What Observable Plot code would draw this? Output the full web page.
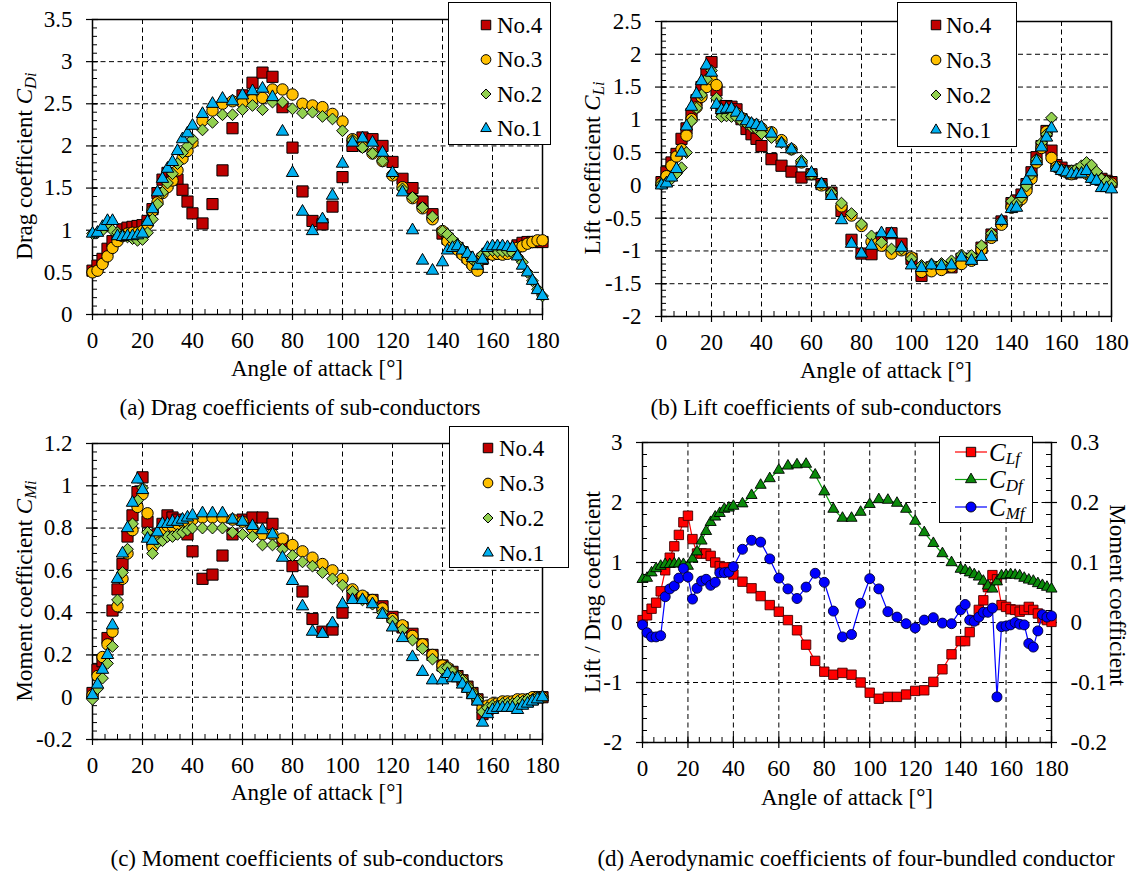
<!DOCTYPE html>
<html>
<head>
<meta charset="utf-8">
<script src="https://cdn.jsdelivr.net/npm/d3@7"></script>
<script src="https://cdn.jsdelivr.net/npm/@observablehq/plot@0.6"></script>
<style>
  body { margin: 0; background: #fff; }
  #fig { position: relative; width: 1135px; height: 875px; background: #fff; overflow: hidden;
         font-family: "Liberation Serif", "Times New Roman", serif; color: #000; }
  #fig > svg { position: absolute; overflow: visible; }
  #fig svg text { font-family: "Liberation Serif", "Times New Roman", serif !important; }
  .lab { position: absolute; white-space: nowrap; line-height: 1; transform-origin: center; }
  .lab sub { font-size: 0.72em; vertical-align: -0.28em; line-height: 0; }
</style>
</head>
<body>
<div id="fig"></div>
<script>
// Angles of attack (deg): 2° steps near the ends, 4° steps in the middle
const angle = [0,2,4,6,8,10,12,14,16,18,20,22,24,26,28,30,32,34,36,38,40,
  44,48,52,56,60,64,68,72,76,80,84,88,92,96,100,104,108,112,116,120,124,128,132,136,
  140,142,144,146,148,150,152,154,156,158,160,162,164,166,168,170,172,174,176,178,180];

// (a) Drag coefficients of sub-conductors
const dragNo4 = [0.52,0.58,0.66,0.78,0.87,0.96,1.01,1.03,1.04,1.05,1.06,1.11,1.25,1.44,1.60,1.68,1.65,1.60,1.48,1.34,1.20,
  1.08,1.31,1.71,2.21,2.60,2.75,2.87,2.82,2.46,1.98,1.46,1.11,1.07,1.28,1.63,2.00,2.10,2.08,2.00,1.81,1.61,1.50,1.34,1.19,
  0.96,0.90,0.84,0.79,0.74,0.68,0.62,0.56,0.66,0.72,0.72,0.73,0.73,0.74,0.78,0.82,0.85,0.86,0.86,0.86,0.86];
const dragNo3 = [0.50,0.52,0.60,0.69,0.79,0.87,0.93,0.96,0.97,0.97,0.99,1.07,1.23,1.33,1.44,1.51,1.59,1.71,1.85,1.94,2.04,
  2.30,2.42,2.50,2.53,2.51,2.55,2.57,2.67,2.67,2.61,2.50,2.48,2.46,2.38,2.29,2.08,1.99,1.91,1.82,1.65,1.51,1.38,1.26,1.13,
  0.99,0.87,0.81,0.77,0.71,0.65,0.58,0.52,0.69,0.73,0.71,0.72,0.71,0.72,0.75,0.79,0.81,0.84,0.86,0.88,0.88];
const dragNo2 = [0.96,0.97,1.00,1.05,1.00,0.97,0.94,0.92,0.90,0.88,0.89,0.97,1.13,1.31,1.45,1.56,1.67,1.79,1.92,2.00,2.08,
  2.19,2.28,2.37,2.37,2.43,2.48,2.43,2.52,2.52,2.44,2.39,2.40,2.35,2.32,2.18,2.07,1.98,1.91,1.82,1.67,1.49,1.39,1.27,1.16,
  0.99,0.95,0.89,0.83,0.77,0.71,0.65,0.60,0.71,0.75,0.76,0.75,0.75,0.75,0.73,0.69,0.62,0.50,0.40,0.30,0.22];
const dragNo1 = [0.96,0.97,1.04,1.11,1.11,0.93,0.92,0.93,0.93,0.94,0.96,1.10,1.25,1.45,1.61,1.73,1.81,1.94,2.08,2.15,2.24,
  2.38,2.50,2.56,2.53,2.60,2.65,2.68,2.58,2.17,1.68,1.22,0.99,1.13,1.41,1.79,2.04,2.09,2.04,1.92,1.68,1.45,1.00,0.64,0.52,
  0.62,0.76,0.79,0.81,0.76,0.72,0.67,0.58,0.65,0.79,0.81,0.81,0.81,0.80,0.79,0.69,0.58,0.50,0.40,0.29,0.22];

// (b) Lift coefficients of sub-conductors
const liftNo4 = [0.05,0.20,0.35,0.48,0.71,0.87,1.09,1.30,1.50,1.70,1.88,1.45,1.21,1.21,1.20,1.16,1.01,0.86,0.78,0.71,0.60,
  0.40,0.30,0.21,0.12,0.17,0.02,-0.11,-0.39,-0.83,-1.04,-1.05,-0.80,-0.73,-0.89,-1.12,-1.38,-1.25,-1.25,-1.25,-1.12,-1.12,-0.95,-0.75,-0.55,
  -0.27,-0.23,-0.14,0.02,0.20,0.43,0.60,0.83,0.53,0.31,0.27,0.22,0.18,0.22,0.23,0.22,0.17,0.13,0.10,0.07,0.05];
const liftNo3 = [0.03,0.14,0.30,0.44,0.55,0.76,1.01,1.19,1.35,1.50,1.62,1.53,1.12,1.15,1.14,1.10,1.03,0.97,0.93,0.90,0.87,
  0.81,0.69,0.55,0.35,0.17,0.00,-0.12,-0.32,-0.46,-0.62,-0.86,-0.92,-1.04,-0.99,-1.10,-1.32,-1.31,-1.29,-1.24,-1.20,-1.15,-0.98,-0.80,-0.60,
  -0.34,-0.28,-0.21,-0.08,0.10,0.35,0.57,0.82,0.42,0.28,0.23,0.20,0.17,0.21,0.25,0.18,0.12,0.10,0.07,0.06,0.03];
const liftNo2 = [0.02,0.04,0.10,0.18,0.27,0.50,0.98,1.18,1.38,1.62,1.75,1.33,1.05,1.06,1.05,1.04,0.98,0.94,0.89,0.86,0.79,
  0.73,0.65,0.55,0.38,0.17,0.02,-0.11,-0.27,-0.43,-0.59,-0.77,-0.87,-0.97,-0.97,-1.12,-1.22,-1.20,-1.19,-1.15,-1.06,-1.07,-0.92,-0.73,-0.54,
  -0.24,-0.27,-0.18,-0.01,0.17,0.40,0.65,0.78,1.03,0.27,0.23,0.20,0.22,0.25,0.30,0.35,0.31,0.21,0.10,0.06,0.02];
const liftNo1 = [0.00,0.03,0.12,0.25,0.50,0.90,1.20,1.39,1.59,1.83,1.72,1.23,1.15,1.17,1.17,1.11,1.04,0.98,0.94,0.92,0.89,
  0.79,0.64,0.55,0.34,0.19,0.02,-0.16,-0.53,-0.89,-1.04,-0.92,-0.73,-0.74,-0.95,-1.22,-1.26,-1.22,-1.23,-1.22,-1.10,-1.15,-1.09,-0.79,-0.54,
  -0.36,-0.34,-0.13,0.07,0.20,0.37,0.58,0.73,0.87,0.27,0.22,0.20,0.17,0.17,0.18,0.22,0.10,0.07,-0.04,-0.04,-0.06];

// (c) Moment coefficients of sub-conductors
const momNo4 = [0.02,0.13,0.17,0.28,0.41,0.51,0.63,0.76,0.86,0.97,1.04,0.83,0.74,0.77,0.82,0.86,0.85,0.84,0.81,0.77,0.69,
  0.56,0.58,0.67,0.77,0.84,0.85,0.85,0.82,0.74,0.62,0.50,0.37,0.31,0.32,0.40,0.48,0.47,0.46,0.43,0.38,0.33,0.30,0.25,0.20,
  0.15,0.13,0.12,0.10,0.08,0.05,0.02,-0.01,-0.08,-0.06,-0.05,-0.04,-0.04,-0.04,-0.03,-0.03,-0.02,-0.02,-0.01,0.00,0.00];
const momNo3 = [0.01,0.10,0.19,0.25,0.31,0.43,0.56,0.68,0.79,0.90,0.96,0.87,0.71,0.75,0.78,0.81,0.81,0.82,0.83,0.83,0.84,
  0.85,0.85,0.85,0.84,0.83,0.80,0.77,0.77,0.75,0.72,0.69,0.66,0.63,0.60,0.56,0.51,0.48,0.46,0.42,0.37,0.34,0.29,0.25,0.20,
  0.15,0.14,0.12,0.10,0.08,0.05,0.02,-0.01,-0.05,-0.04,-0.03,-0.03,-0.02,-0.02,-0.02,-0.01,-0.01,-0.01,0.00,0.00,0.00];
const momNo2 = [-0.01,0.04,0.09,0.16,0.24,0.46,0.59,0.70,0.82,0.93,0.99,0.78,0.68,0.73,0.74,0.76,0.76,0.77,0.78,0.79,0.80,
  0.80,0.80,0.80,0.78,0.77,0.76,0.72,0.72,0.70,0.67,0.64,0.62,0.59,0.56,0.53,0.50,0.46,0.44,0.40,0.36,0.32,0.27,0.23,0.18,
  0.13,0.14,0.12,0.10,0.08,0.05,0.02,-0.01,-0.07,-0.05,-0.04,-0.04,-0.03,-0.03,-0.03,-0.02,-0.02,-0.01,-0.01,0.00,0.00];
const momNo1 = [0.01,0.06,0.13,0.20,0.34,0.56,0.68,0.80,0.92,1.03,0.98,0.75,0.74,0.78,0.82,0.82,0.83,0.83,0.84,0.85,0.86,
  0.87,0.87,0.87,0.84,0.83,0.81,0.79,0.77,0.66,0.55,0.43,0.31,0.30,0.35,0.44,0.46,0.46,0.44,0.39,0.33,0.28,0.19,0.12,0.08,
  0.08,0.11,0.09,0.09,0.06,0.04,0.01,-0.02,-0.12,-0.08,-0.06,-0.05,-0.05,-0.05,-0.05,-0.06,-0.04,-0.03,-0.02,-0.01,0.00];

// (d) Aerodynamic coefficients of the four-bundled conductor
const cLf = [0.04,0.12,0.23,0.33,0.52,0.87,1.08,1.27,1.46,1.67,1.78,1.39,1.15,1.15,1.15,1.11,1.00,0.94,0.92,0.84,0.80,
  0.68,0.57,0.44,0.29,0.18,0.04,-0.13,-0.37,-0.64,-0.82,-0.87,-0.84,-0.87,-1.00,-1.17,-1.27,-1.24,-1.24,-1.20,-1.14,-1.13,-0.99,-0.78,-0.53,
  -0.31,-0.31,-0.16,0.04,0.21,0.37,0.59,0.79,0.72,0.29,0.26,0.22,0.21,0.18,0.21,0.26,0.21,0.15,0.07,0.04,0.01];
const cDf = [0.72,0.74,0.83,0.90,0.94,0.97,0.97,0.98,0.98,0.97,0.94,1.06,1.18,1.36,1.52,1.67,1.76,1.82,1.89,1.91,1.94,
  1.98,2.12,2.29,2.40,2.54,2.61,2.63,2.64,2.46,2.18,1.89,1.74,1.74,1.84,1.97,2.05,2.04,1.99,1.89,1.69,1.50,1.32,1.15,1.00,
  0.89,0.87,0.83,0.80,0.76,0.69,0.61,0.56,0.68,0.78,0.79,0.80,0.79,0.78,0.74,0.71,0.69,0.65,0.62,0.59,0.56];
const cMf = [-0.004,-0.017,-0.024,-0.024,-0.022,0.043,0.056,0.061,0.074,0.090,0.076,0.039,0.057,0.069,0.072,0.062,0.067,0.083,0.083,0.084,0.093,
  0.122,0.137,0.134,0.106,0.074,0.056,0.040,0.059,0.082,0.067,0.019,-0.024,-0.020,0.032,0.073,0.056,0.018,0.009,-0.002,-0.009,0.004,0.008,-0.001,-0.002,
  0.021,0.030,0.004,0.002,0.009,0.017,0.017,0.024,-0.124,-0.007,-0.006,-0.004,0.000,-0.003,-0.004,-0.035,-0.041,-0.014,0.013,0.009,0.011];

// Tick values
const xTicks = [0,20,40,60,80,100,120,140,160,180];
const xMinor = d3.range(0, 181, 5);
const dragTicks = [0,0.5,1,1.5,2,2.5,3,3.5];
const liftTicks = [-2,-1.5,-1,-0.5,0,0.5,1,1.5,2,2.5];
const momTicks = [-0.2,0,0.2,0.4,0.6,0.8,1,1.2];
const aeroTicks = [-2,-1,0,1,2,3];
const momentRightLabels = ["-0.2","-0.1","0","0.1","0.2","0.3"];

// Sub-conductor series: drawn No.4 first so No.1 sits on top
const subSeries = [
  {name: "No.4", symbol: "square",   r: 6.3, fill: "#C00000"},
  {name: "No.3", symbol: "circle",   r: 5.7, fill: "#FFC000"},
  {name: "No.2", symbol: "diamond2", r: 5.3, fill: "#92D050"},
  {name: "No.1", symbol: "triangle", r: 4.6, fill: "#00B0F0"}
];

const SERIF = "Liberation Serif";
const FS = 23;
const fig = document.getElementById("fig");
const rows = arr => arr.map((v, i) => ({a: angle[i], v}));

function panel({left, top, W, H, ml, mr, mt, mb, yDomain, yTicks, yMinor, yFormat, marks, rightTicks}) {
  const iw = W - ml - mr, ih = H - mt - mb;
  const ink = {stroke: "#000", strokeOpacity: 1};
  const dash = {...ink, strokeWidth: 1, strokeDasharray: "5,3.5"};
  const inner = t => t > yDomain[0] + 1e-9 && t < yDomain[1] - 1e-9;
  const text = {fontFamily: SERIF, fontSize: FS};
  const all = [
    Plot.gridX({ticks: xTicks.filter(t => t > 0 && t < 180), ...dash}),
    Plot.gridY({ticks: yTicks.filter(inner), ...dash}),
    Plot.ruleX(xMinor, {...ink, strokeWidth: 1, insetTop: ih - 5}),
    Plot.ruleX(xTicks, {...ink, strokeWidth: 1.2, insetTop: ih - 6, insetBottom: -6}),
    Plot.ruleY(yMinor, {...ink, strokeWidth: 1, insetRight: iw - 5}),
    Plot.ruleY(yTicks, {...ink, strokeWidth: 1.2, insetRight: iw - 6, insetLeft: -6}),
    Plot.axisX({ticks: xTicks, tickSize: 0, tickPadding: 17, tickFormat: d => String(d), label: null, ...text}),
    Plot.axisY({ticks: yTicks, tickSize: 0, tickPadding: 20, tickFormat: yFormat, label: null, ...text})
  ];
  if (rightTicks) {
    all.push(
      Plot.ruleY(yMinor, {...ink, strokeWidth: 1, insetLeft: iw - 5}),
      Plot.ruleY(yTicks, {...ink, strokeWidth: 1.2, insetLeft: iw - 6, insetRight: -6}),
      Plot.axisY({anchor: "right", ticks: yTicks, tickSize: 0, tickPadding: 19, tickFormat: rightTicks, label: null, ...text})
    );
  }
  all.push(Plot.frame({stroke: "#000", strokeWidth: 1.5}), ...marks);
  const svg = Plot.plot({
    width: W, height: H,
    marginLeft: ml, marginRight: mr, marginTop: mt, marginBottom: mb,
    x: {domain: [0, 180]},
    y: {domain: yDomain},
    style: {fontFamily: SERIF, fontSize: FS + "px", color: "#000", background: "transparent"},
    marks: all
  });
  svg.style.left = left + "px";
  svg.style.top = top + "px";
  fig.appendChild(svg);
}

function subDots(arrays) {
  return subSeries.map((s, k) => Plot.dot(rows(arrays[k]), {
    x: "a", y: "v", symbol: s.symbol, r: s.r, fill: s.fill, stroke: "#000", strokeWidth: 1
  }));
}

function label(html, x, y, {rot = 0, size = FS} = {}) {
  const el = document.createElement("div");
  el.className = "lab";
  el.innerHTML = html;
  el.style.left = x + "px";
  el.style.top = y + "px";
  el.style.fontSize = size + "px";
  el.style.transform = `translate(-50%,-50%) rotate(${rot}deg)`;
  fig.appendChild(el);
}

const d3Symbol = {square: d3.symbolSquare, circle: d3.symbolCircle, diamond2: d3.symbolDiamond2, triangle: d3.symbolTriangle};

function subLegend(left, top, w, h, y0, dy, mx, tx) {
  const svg = d3.create("svg").attr("width", w).attr("height", h)
    .style("left", left + "px").style("top", top + "px");
  svg.append("rect").attr("x", 0.5).attr("y", 0.5).attr("width", w - 1).attr("height", h - 1)
    .attr("fill", "#fff").attr("stroke", "#000");
  subSeries.forEach((s, i) => {
    const y = y0 + i * dy;
    svg.append("path").attr("d", d3.symbol(d3Symbol[s.symbol], Math.PI * (s.r * 0.85) ** 2)())
      .attr("transform", `translate(${mx},${y})`).attr("fill", s.fill).attr("stroke", "#000");
    svg.append("text").attr("x", tx).attr("y", y).attr("dy", "0.34em")
      .attr("font-family", SERIF).attr("font-size", 23).text(s.name);
  });
  fig.appendChild(svg.node());
}

// ---- (a) drag ----
panel({left: 0, top: 0, W: 560, H: 400, ml: 92, mr: 18, mt: 19, mb: 86,
  yDomain: [0, 3.5], yTicks: dragTicks, yMinor: d3.range(0, 36).map(i => i / 10),
  yFormat: d => String(d),
  marks: subDots([dragNo4, dragNo3, dragNo2, dragNo1])});

// ---- (b) lift ----
panel({left: 570, top: 0, W: 565, H: 400, ml: 91, mr: 24, mt: 21, mb: 84,
  yDomain: [-2, 2.5], yTicks: liftTicks, yMinor: d3.range(-20, 26).map(i => i / 10),
  yFormat: d => String(d),
  marks: subDots([liftNo4, liftNo3, liftNo2, liftNo1])});

// ---- (c) moment ----
panel({left: 0, top: 420, W: 560, H: 420, ml: 92, mr: 18, mt: 23, mb: 101,
  yDomain: [-0.2, 1.2], yTicks: momTicks, yMinor: d3.range(-5, 31).map(i => i * 0.04),
  yFormat: d => String(d),
  marks: subDots([momNo4, momNo3, momNo2, momNo1])});

// ---- (d) bundle coefficients (moment on the right axis, scaled x10) ----
const bundle = angle.map((a, i) => ({a, lift: cLf[i], drag: cDf[i], mom: cMf[i]}));
panel({left: 570, top: 420, W: 565, H: 420, ml: 72, mr: 84, mt: 22, mb: 98,
  yDomain: [-2, 3], yTicks: aeroTicks, yMinor: d3.range(-10, 16).map(i => i / 5),
  yFormat: d => String(d),
  rightTicks: (d, i) => momentRightLabels[i],
  marks: [
    Plot.line(bundle, {x: "a", y: "lift", stroke: "#FF0000", strokeWidth: 1.2}),
    Plot.dot(bundle, {x: "a", y: "lift", symbol: "square", r: 5.3, fill: "#FF0000", stroke: "#400", strokeWidth: 0.9}),
    Plot.line(bundle, {x: "a", y: "drag", stroke: "#10A010", strokeWidth: 1.2}),
    Plot.dot(bundle, {x: "a", y: "drag", symbol: "triangle", r: 4.1, fill: "#0A8A0A", stroke: "#000", strokeWidth: 0.9}),
    Plot.line(bundle, {x: "a", y: d => d.mom * 10, stroke: "#0000FF", strokeWidth: 1.2}),
    Plot.dot(bundle, {x: "a", y: d => d.mom * 10, symbol: "circle", r: 5, fill: "#0000FF", stroke: "#000030", strokeWidth: 0.9})
  ]});

// ---- axis titles ----
label("Angle of attack [°]", 317, 368);
label("Angle of attack [°]", 886, 370);
label("Angle of attack [°]", 317, 792);
label("Angle of attack [°]", 847, 797);
label("Drag coefficient <i>C</i><sub><i>Di</i></sub>", 24, 166, {rot: -90});
label("Lift coefficient <i>C</i><sub><i>Li</i></sub>", 592, 168, {rot: -90});
label("Moment coefficient <i>C</i><sub><i>Mi</i></sub>", 24, 591, {rot: -90});
label("Lift / Drag coefficient", 592, 592, {rot: -90});
label("Moment coefficient", 1117, 595, {rot: 90});

// ---- captions ----
label("(a) Drag coefficients of sub-conductors", 300, 407);
label("(b) Lift coefficients of sub-conductors", 826, 407);
label("(c) Moment coefficients of sub-conductors", 307, 858);
label("(d) Aerodynamic coefficients of four-bundled conductor", 856, 858);

// ---- legends ----
subLegend(448, 2, 103, 143, 23, 34.5, 38, 49);
subLegend(897, 2, 120, 145, 23, 35, 39, 49);
subLegend(449, 426, 120, 142, 22, 35, 39, 50);

(function bundleLegend() {
  const w = 94, h = 87;
  const svg = d3.create("svg").attr("width", w).attr("height", h).style("left", "939px").style("top", "436px");
  svg.append("rect").attr("x", 0.5).attr("y", 0.5).attr("width", w - 1).attr("height", h - 1)
    .attr("fill", "#fff").attr("stroke", "#000");
  const items = [
    {sub: "Lf", color: "#FF0000", sym: d3.symbolSquare, area: Math.PI * 5.3 ** 2},
    {sub: "Df", color: "#10A010", fill: "#0A8A0A", sym: d3.symbolTriangle, area: Math.PI * 4.1 ** 2},
    {sub: "Mf", color: "#0000FF", sym: d3.symbolCircle, area: Math.PI * 25}
  ];
  items.forEach((it, i) => {
    const y = 16 + i * 27.5;
    svg.append("line").attr("x1", 16).attr("x2", 48).attr("y1", y).attr("y2", y)
      .attr("stroke", it.color).attr("stroke-width", 1.2);
    svg.append("path").attr("d", d3.symbol(it.sym, it.area)()).attr("transform", `translate(32,${y})`)
      .attr("fill", it.fill || it.color).attr("stroke", "#000").attr("stroke-width", 0.9);
    const t = svg.append("text").attr("x", 50).attr("y", y).attr("dy", "0.34em")
      .attr("font-family", SERIF).attr("font-size", 25).attr("font-style", "italic");
    t.append("tspan").text("C");
    t.append("tspan").attr("font-size", 17).attr("dy", "0.2em").text(it.sub);
  });
  fig.appendChild(svg.node());
})();
</script>
</body>
</html>
